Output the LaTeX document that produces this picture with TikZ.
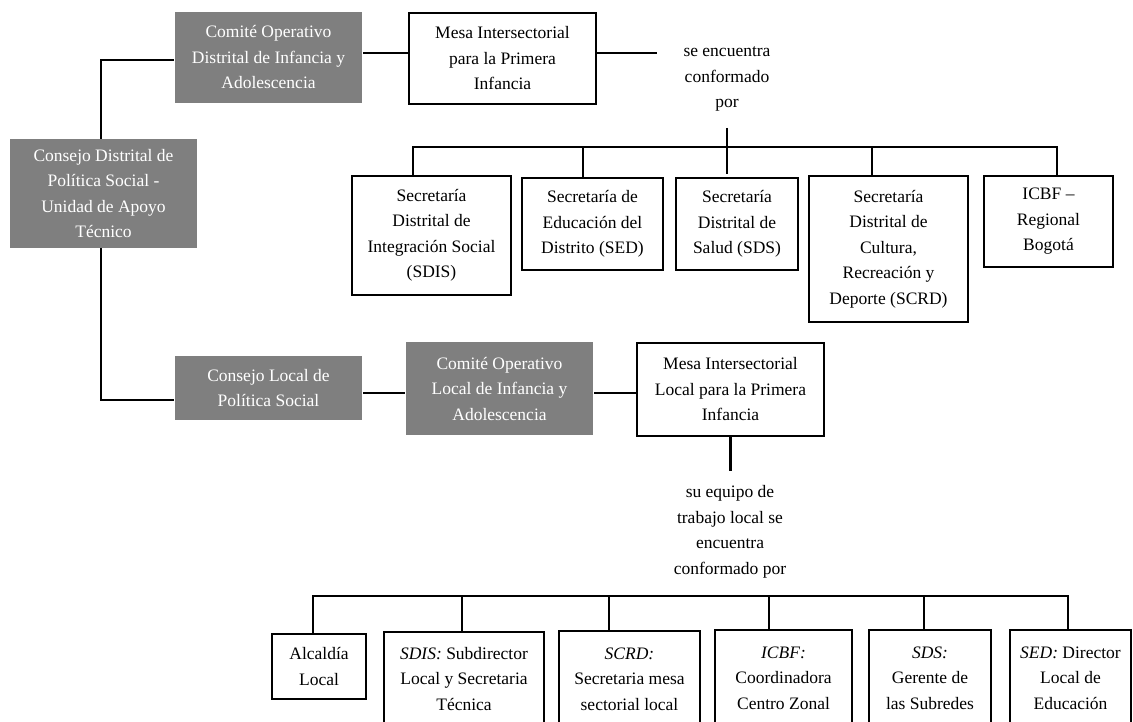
\documentclass[tikz,border=0pt]{standalone}
\usepackage{fontspec}
\setmainfont{Liberation Serif}
\usepackage{tikz}
\definecolor{boxgray}{RGB}{127,127,127}

\begin{document}
\begin{tikzpicture}[x=1pt, y=-1pt, line width=2.4pt,
    every node/.style={font=\fontsize{17.5}{25.5}\selectfont, align=center, inner sep=0pt},
    graybox/.style={fill=boxgray, text=white, minimum width=187pt},
    whitebox/.style={draw, line width=1.3pt, fill=white}]
  \useasboundingbox (0,0) rectangle (1133,722);
  % district level
  \node[graybox, minimum height=109pt] (cdps) at (103.5,193.5) {Consejo Distrital de\\Política Social -\\Unidad de Apoyo\\Técnico};
  \node[graybox, minimum height=91pt] (codia) at (268.5,57.5) {Comité Operativo\\Distrital de Infancia y\\Adolescencia};
  \node[whitebox, minimum width=187pt, minimum height=91pt] (mipi) at (502.5,58.5) {Mesa Intersectorial\\para la Primera\\Infancia};
  \node (lbl1) at (727,79) {se encuentra\\conformado\\por};
  \coordinate (e1) at (657,53);
  \draw (codia.east |- e1) -- (mipi.west |- e1);
  \draw (mipi.east |- e1) -- (e1);
  \draw (codia.west |- 0,60) -| (101,139);
  % district members
  \node[whitebox, minimum width=159pt, minimum height=119pt] (sdis) at (431.5,235.5) {Secretaría\\Distrital de\\Integración Social\\(SDIS)};
  \node[whitebox, minimum width=141pt, minimum height=92pt] (sed) at (592.5,224) {Secretaría de\\Educación del\\Distrito (SED)};
  \node[whitebox, minimum width=122pt, minimum height=92pt] (sds) at (737,224) {Secretaría\\Distrital de\\Salud (SDS)};
  \node[whitebox, minimum width=159pt, minimum height=146pt] (scrd) at (888.5,249) {Secretaría\\Distrital de\\Cultura,\\Recreación y\\Deporte (SCRD)};
  \node[whitebox, minimum width=129pt, minimum height=91pt] (icbf) at (1048.5,221.5) {ICBF --\\Regional\\Bogotá};
  \coordinate (b1) at (413,147);
  \coordinate (b2) at (583,147);
  \coordinate (b3) at (727,147);
  \coordinate (b4) at (872,147);
  \coordinate (b5) at (1057,147);
  \draw (b1 |- sdis.north) -- (b1) -- (b5) -- (b5 |- icbf.north);
  \draw (b2) -- (b2 |- sed.north);
  \draw (727,128) -- (727,174);
  \draw (b4) -- (b4 |- scrd.north);
  % local level
  \node[graybox, minimum height=64pt] (clps) at (268.5,388) {Consejo Local de\\Política Social};
  \node[graybox, minimum height=93pt] (colia) at (499.5,388.5) {Comité Operativo\\Local de Infancia y\\Adolescencia};
  \node[whitebox, minimum width=187pt, minimum height=93pt] (mlpi) at (730.5,389.5) {Mesa Intersectorial\\Local para la Primera\\Infancia};
  \node (lbl2) at (730,532) {su equipo de\\trabajo local se\\encuentra\\conformado por};
  \draw (101,248) |- (clps.west |- 0,400);
  \draw (clps.east |- 0,393) -- (colia.west |- 0,393);
  \draw (colia.east |- 0,393) -- (mlpi.west |- 0,393);
  \draw (mlpi.south) -- ++(0,34);
  % local members
  \node[whitebox, minimum width=94pt, minimum height=65pt] (alc) at (319,666.5) {Alcaldía\\Local};
  \node[whitebox, minimum width=160pt, minimum height=94pt] (lsdis) at (464,679) {\textit{SDIS:} Subdirector\\Local y Secretaria\\Técnica};
  \node[whitebox, minimum width=141pt, minimum height=96pt] (lscrd) at (629.5,679) {\textit{SCRD:}\\Secretaria mesa\\sectorial local};
  \node[whitebox, minimum width=137pt, minimum height=96pt] (licbf) at (783.5,678) {\textit{ICBF:}\\Coordinadora\\Centro Zonal};
  \node[whitebox, minimum width=122pt, minimum height=96pt] (lsds) at (930,678) {\textit{SDS:}\\Gerente de\\las Subredes};
  \node[whitebox, minimum width=121pt, minimum height=96pt] (lsed) at (1070.5,678) {\textit{SED:} Director\\Local de\\Educación};
  \coordinate (c1) at (313,596);
  \coordinate (c2) at (462,596);
  \coordinate (c3) at (609,596);
  \coordinate (c4) at (769,596);
  \coordinate (c5) at (924,596);
  \coordinate (c6) at (1068,596);
  \draw (c1 |- alc.north) -- (c1) -- (c6) -- (c6 |- lsed.north);
  \foreach \c/\b in {c2/lsdis, c3/lscrd, c4/licbf, c5/lsds}
    \draw (\c) -- (\c |- \b.north);
\end{tikzpicture}
\end{document}
